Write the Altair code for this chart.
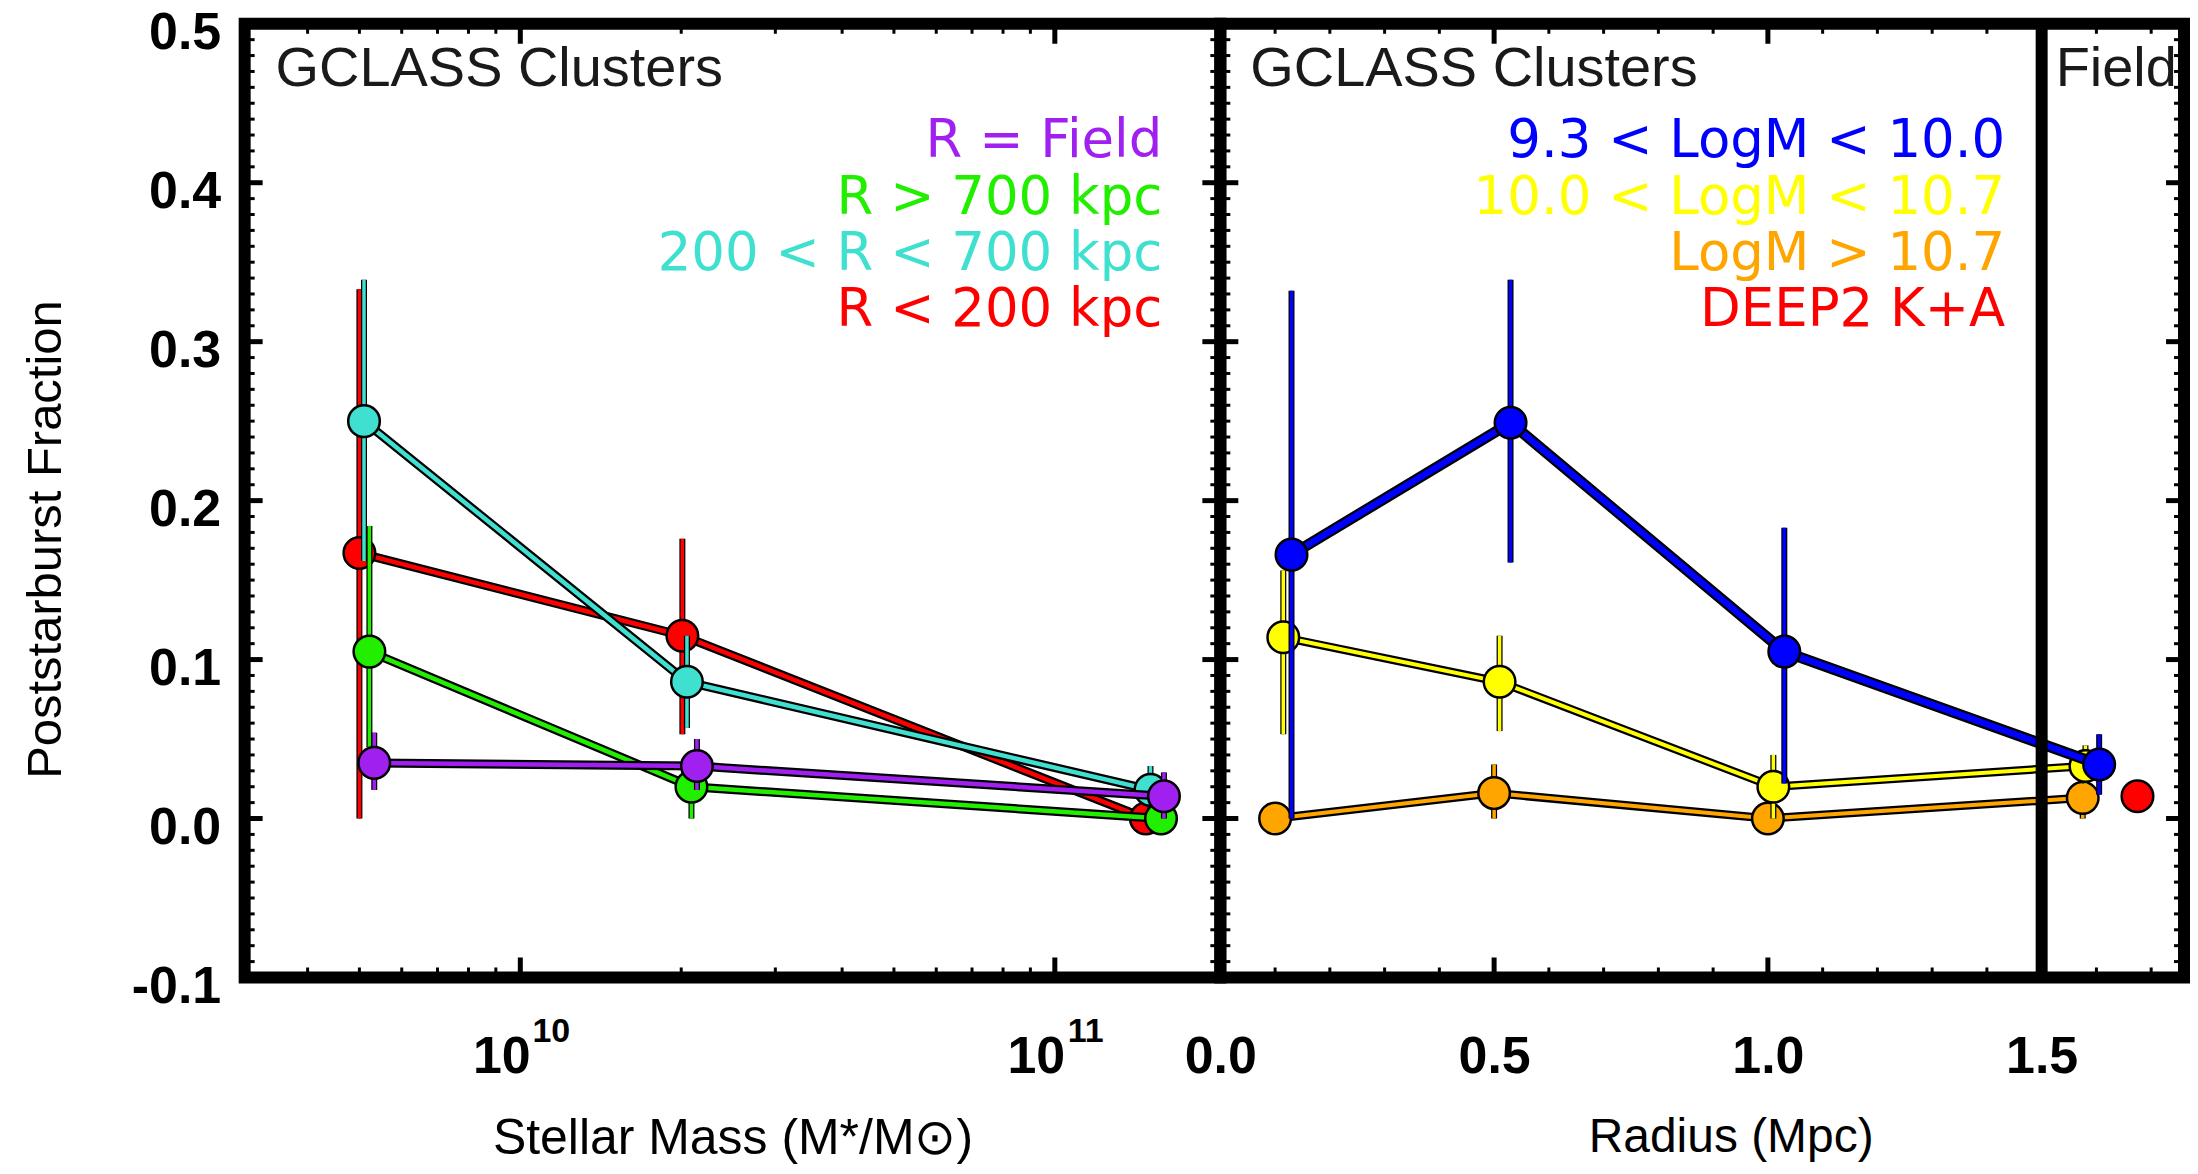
import altair as alt
import pandas as pd

FONT = "Liberation Sans"
LEG_FONT = "DejaVu Sans"

# ---------------- left panel: fraction vs stellar mass ----------------
mass_names = ["R < 200 kpc", "200 < R < 700 kpc", "R > 700 kpc", "R = Field"]
mass_colors = ["#FF0000", "#40E0D0", "#22EE00", "#A020F0"]
mass_x = [
    [5.00e9, 2.01e10, 1.48e11],
    [5.10e9, 2.05e10, 1.51e11],
    [5.22e9, 2.09e10, 1.58e11],
    [5.33e9, 2.14e10, 1.60e11],
]
mass_frac = [
    [0.167, 0.115, 0.000],
    [0.250, 0.086, 0.018],
    [0.105, 0.020, 0.000],
    [0.035, 0.033, 0.014],
]
mass_lo = [
    [0.000, 0.053, 0.000],
    [0.162, 0.057, 0.005],
    [0.045, 0.000, 0.000],
    [0.018, 0.018, 0.000],
]
mass_hi = [
    [0.333, 0.176, 0.000],
    [0.339, 0.115, 0.033],
    [0.184, 0.035, 0.000],
    [0.054, 0.050, 0.029],
]

# ---------------- right panel: fraction vs radius ----------------
rad_names = ["LogM > 10.7", "10.0 < LogM < 10.7", "9.3 < LogM < 10.0"]
rad_colors = ["#FFA500", "#FFFF00", "#0000FF"]
rad_x = [
    [0.100, 0.500, 1.000, 1.575],
    [0.115, 0.510, 1.010, 1.580],
    [0.130, 0.530, 1.030, 1.605],
]
rad_frac = [
    [0.000, 0.016, 0.000, 0.013],
    [0.114, 0.086, 0.020, 0.033],
    [0.166, 0.249, 0.105, 0.034],
]
rad_lo = [
    [0.000, 0.000, 0.000, 0.000],
    [0.053, 0.055, 0.000, 0.022],
    [0.000, 0.161, 0.022, 0.015],
]
rad_hi = [
    [0.000, 0.034, 0.000, 0.025],
    [0.156, 0.115, 0.040, 0.046],
    [0.332, 0.339, 0.183, 0.053],
]
deep2_name = "DEEP2 K+A"
deep2_color = "#FF0000"
deep2_x = [1.675]
deep2_frac = [0.014]
field_edge = [1.5]

# ---------------- axes / ticks ----------------
y_major = [-0.1, 0.0, 0.1, 0.2, 0.3, 0.4, 0.5]
y_minor = [round(-0.1 + 0.01 * i, 2) for i in range(61) if i % 10 != 0]
mass_major = [1e10, 1e11]
mass_sup = ["10", "11"]
mass_minor = [4e9, 5e9, 6e9, 7e9, 8e9, 9e9,
              2e10, 3e10, 4e10, 5e10, 6e10, 7e10, 8e10, 9e10]
rad_major = [0.0, 0.5, 1.0, 1.5]
rad_minor = [0.1, 0.2, 0.3, 0.4, 0.6, 0.7, 0.8, 0.9,
             1.1, 1.2, 1.3, 1.4, 1.6, 1.7]

W1, W2, H = 977, 965, 955
FRAME = 12

y_scale = alt.Scale(domain=[-0.1, 0.5], nice=False, zero=False)
xs_left = alt.Scale(type="log", domain=[3.05e9, 2.04e11], nice=False)
xs_right = alt.Scale(domain=[0, 1.76], nice=False, zero=False)

common = dict(ticks=False, domain=False, grid=False, labelFont=FONT,
              labelFontSize=52, labelFontWeight="bold", labelColor="black",
              labelFlush=False, labelOverlap=False, titleFont=FONT,
              titleFontWeight="normal", titleColor="black")

y_axis_left = alt.Axis(
    values=y_major,
    labelExpr="datum.value < 0 ? '-' + format(-datum.value, '.1f') : format(datum.value, '.1f')",
    labelPadding=24, labelOffset=9, title="Poststarburst Fraction",
    titleFontSize=49, titlePadding=61, titleY=516, **common)
x_axis_left = alt.Axis(
    values=mass_major, labelExpr="'10'", labelOffset=-19, labelPadding=54,
    title="Stellar Mass (M*/M\u2299)", titleFontSize=50, titlePadding=31, **common)
x_axis_right = alt.Axis(
    values=rad_major, format=".1f", labelPadding=54,
    title="Radius (Mpc)", titleFontSize=48, titlePadding=31, titleX=511, **common)


def series_layers(xs, ys, lo, hi, color, xscale, xaxis, yaxis, out_w, in_w):
    df = pd.DataFrame({"x": xs, "f": ys, "lo": lo, "hi": hi})
    base = alt.Chart(df)
    X = alt.X("x:Q", scale=xscale, axis=xaxis)
    Yf = alt.Y("f:Q", scale=y_scale, axis=yaxis)
    Ylo = alt.Y("lo:Q", scale=y_scale, axis=yaxis)
    return [
        base.mark_rule(color="black", strokeWidth=6).encode(x=X, y=Ylo, y2="hi:Q"),
        base.mark_rule(color=color, strokeWidth=3.5).encode(x=X, y=Ylo, y2="hi:Q"),
        base.mark_line(color="black", strokeWidth=out_w).encode(x=X, y=Yf),
        base.mark_line(color=color, strokeWidth=in_w).encode(x=X, y=Yf),
        base.mark_circle(size=1000, opacity=1, fill=color, stroke="black",
                         strokeWidth=2.5).encode(x=X, y=Yf),
    ]


def tick_layers(xscale, xaxis, yaxis, x_major, x_minor, W):
    out = []
    for vals, length, sw in [(y_major, 18, 5), (y_minor, 10, 3)]:
        d = alt.Chart(pd.DataFrame({"v": vals}))
        yy = alt.Y("v:Q", scale=y_scale, axis=yaxis)
        out.append(d.mark_rule(color="black", strokeWidth=sw).encode(
            y=yy, x=alt.value(0), x2=alt.value(length)))
        out.append(d.mark_rule(color="black", strokeWidth=sw).encode(
            y=yy, x=alt.value(W - length), x2=alt.value(W)))
    for vals, length, sw in [(x_major, 20, 5), (x_minor, 10, 3)]:
        d = alt.Chart(pd.DataFrame({"v": vals}))
        xx = alt.X("v:Q", scale=xscale, axis=xaxis)
        out.append(d.mark_rule(color="black", strokeWidth=sw).encode(
            x=xx, y=alt.value(H - length), y2=alt.value(H)))
        out.append(d.mark_rule(color="black", strokeWidth=sw).encode(
            x=xx, y=alt.value(0), y2=alt.value(length)))
    return out


def label(txt, color, x, y, size, align, font=FONT):
    return alt.Chart(pd.DataFrame({"t": [txt]})).mark_text(
        align=align, baseline="middle", font=font, fontSize=size, color=color
    ).encode(text="t:N", x=alt.value(x), y=alt.value(y))


LEG_Y0, LEG_DY, LEG_SIZE = 117.5, 56.5, 53
TXT = "#1a1a1a"

# ---------- left panel layers ----------
left_layers = []
for i in range(len(mass_names)):
    left_layers += series_layers(mass_x[i], mass_frac[i], mass_lo[i], mass_hi[i],
                                 mass_colors[i], xs_left, x_axis_left, y_axis_left, 9, 4.5)
left_layers += tick_layers(xs_left, x_axis_left, y_axis_left, mass_major, mass_minor, W1)
left_layers.append(
    alt.Chart(pd.DataFrame({"v": mass_major, "s": mass_sup})).mark_text(
        align="center", baseline="middle", font=FONT, fontSize=34,
        fontWeight="bold", color="black", dx=31
    ).encode(x=alt.X("v:Q", scale=xs_left, axis=x_axis_left),
             y=alt.value(H + 55), text="s:N"))
left_layers.append(label("GCLASS Clusters", TXT, 31, 45.5, 56, "left"))
for k, i in enumerate(reversed(range(len(mass_names)))):
    left_layers.append(label(mass_names[i], mass_colors[i], 919,
                             LEG_Y0 + k * LEG_DY, LEG_SIZE, "right", LEG_FONT))

# ---------- right panel layers ----------
right_layers = []
for i in range(len(rad_names)):
    big = rad_names[i].startswith("9.3")
    right_layers += series_layers(rad_x[i], rad_frac[i], rad_lo[i], rad_hi[i],
                                  rad_colors[i], xs_right, x_axis_right, None,
                                  11 if big else 8.5, 6.5 if big else 4)
right_layers.append(
    alt.Chart(pd.DataFrame({"x": deep2_x, "f": deep2_frac})).mark_circle(
        size=1000, opacity=1, fill=deep2_color, stroke="black", strokeWidth=2.5
    ).encode(x=alt.X("x:Q", scale=xs_right, axis=x_axis_right),
             y=alt.Y("f:Q", scale=y_scale, axis=None)))
right_layers.append(
    alt.Chart(pd.DataFrame({"v": field_edge})).mark_rule(
        color="black", strokeWidth=12
    ).encode(x=alt.X("v:Q", scale=xs_right, axis=x_axis_right)))
right_layers += tick_layers(xs_right, x_axis_right, None, rad_major, rad_minor, W2)
right_layers.append(label("GCLASS Clusters", TXT, 30, 45.5, 56, "left"))
right_layers.append(
    alt.Chart(pd.DataFrame({"t": ["Field"], "v": field_edge})).mark_text(
        align="left", baseline="middle", font=FONT, fontSize=56,
        color=TXT, dx=14
    ).encode(x=alt.X("v:Q", scale=xs_right, axis=x_axis_right),
             y=alt.value(45.5), text="t:N"))
leg_names = [rad_names[2], rad_names[1], rad_names[0], deep2_name]
leg_colors = [rad_colors[2], rad_colors[1], rad_colors[0], deep2_color]
for k in range(4):
    right_layers.append(label(leg_names[k], leg_colors[k], 786,
                              LEG_Y0 + k * LEG_DY, LEG_SIZE, "right", LEG_FONT))

left = alt.layer(*left_layers).properties(width=W1, height=H)
right = alt.layer(*right_layers).properties(width=W2, height=H)

chart = (
    alt.hconcat(left, right, spacing=0, bounds="flush")
    .resolve_scale(x="independent", y="independent")
    .resolve_axis(x="independent", y="independent")
    .properties(padding={"left": 15, "top": 0, "right": 5, "bottom": 5},
                background="white")
    .configure(font=FONT, view=alt.ViewConfig(stroke="black", strokeWidth=FRAME))
)

chart.save("out.html", embed_options={"renderer": "svg", "actions": False})
